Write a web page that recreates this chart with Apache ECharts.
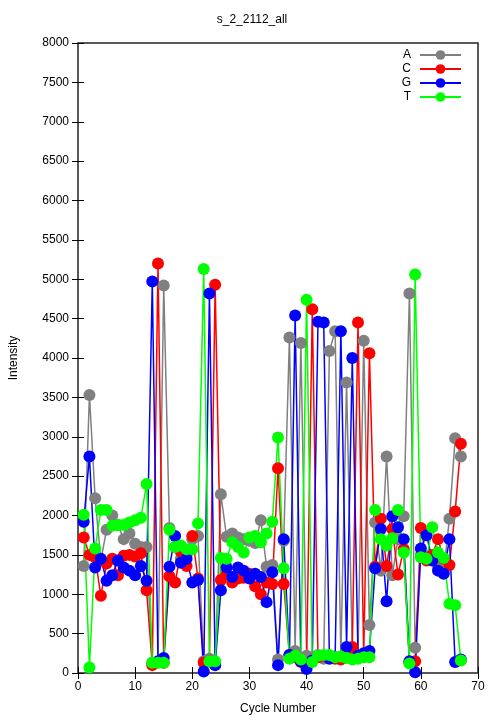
<!DOCTYPE html>
<html>
<head>
<meta charset="utf-8">
<script src="https://cdn.jsdelivr.net/npm/echarts@6/dist/echarts.min.js"></script>
<style>
  html, body { margin: 0; padding: 0; background: #fff; }
  #chart { width: 504px; height: 720px; }
</style>
</head>
<body>
<div id="chart"></div>
<script>
// cycle numbers 1..67
const cycles = [
  1, 2, 3, 4, 5, 6, 7, 8, 9, 10, 11, 12, 13, 14, 15, 16, 17, 18, 19, 20,
  21, 22, 23, 24, 25, 26, 27, 28, 29, 30, 31, 32, 33, 34, 35, 36, 37, 38, 39, 40,
  41, 42, 43, 44, 45, 46, 47, 48, 49, 50, 51, 52, 53, 54, 55, 56, 57, 58, 59, 60,
  61, 62, 63, 64, 65, 66, 67
]

const seriesA = [
  1360, 3530, 2220, 1430, 1820, 2000, 1880, 1700, 1770, 1640, 1600, 1600, 130, 140, 4920, 1840, 1600, 1450, 1500, 1700,
  1740, 150, 180, 100, 2270, 1730, 1770, 1720, 1700, 1680, 1650, 1940, 1350, 1370, 170, 1680, 4260, 280, 4190, 220,
  200, 230, 180, 4090, 4340, 200, 3690, 270, 210, 4220, 610, 1910, 1300, 2750, 1240, 1700, 1990, 4820, 320, 1500,
  1480, 1450, 1350, 1280, 1960, 2980, 2750
]
const seriesC = [
  1720, 1500, 1470, 980, 1390, 1450, 1240, 1490, 1500, 1480, 1520, 1050, 100, 5200, 130, 1230, 1150, 1540, 1360, 1740,
  1200, 130, 150, 4930, 1180, 1250, 1150, 1200, 1210, 1260, 1100, 1000, 1150, 1130, 2600, 1130, 230, 200, 140, 100,
  4620, 200, 220, 200, 180, 170, 200, 330, 4450, 230, 4060, 1350, 1960, 1360, 1830, 1250, 1575, 130, 150, 1840,
  1430, 1500, 1700, 1450, 1370, 2050, 2910
]
const seriesG = [
  1920, 2750, 1340, 1450, 1170, 1240, 1430, 1340, 1300, 1240, 1360, 1170, 4970, 150, 190, 1350, 1740, 1400, 1450, 1150,
  1180, 20, 4820, 100, 1050, 1340, 1220, 1340, 1300, 1200, 1260, 1220, 900, 1280, 100, 1700, 230, 4540, 150, 50,
  160, 4460, 4450, 180, 200, 4340, 330, 4000, 220, 250, 280, 1330, 1830, 910, 1990, 1850, 1700, 150, 10, 1580,
  1750, 1430, 1300, 1260, 1700, 140, 170
]
const seriesT = [
  2010, 70, 1580, 2070, 2070, 1870, 1880, 1880, 1910, 1940, 1970, 2400, 130, 130, 130, 1820, 1600, 1620, 1570, 1570,
  1900, 5130, 150, 150, 1460, 1450, 1660, 1600, 1530, 1720, 1740, 1660, 1770, 1920, 2990, 1330, 180, 220, 170, 4740,
  140, 220, 230, 230, 200, 210, 190, 170, 180, 200, 200, 2070, 1700, 1620, 1710, 2070, 1530, 120, 5060, 1470,
  1450, 1850, 1530, 1460, 880, 860, 160
]

const names = ['A', 'C', 'G', 'T']
const colors = ['#808080', '#ff0000', '#0000ff', '#00ff00']
const values = [seriesA, seriesC, seriesG, seriesT]

const font = 'Liberation Sans, Arial, sans-serif'

const chart = echarts.init(document.getElementById('chart'))

const pairs = arr => cycles.map((c, i) => [c, arr[i]])

const tickStyle = {
  axisLine: { show: false },
  axisTick: { show: true, inside: true, length: 6, lineStyle: { color: '#000', width: 1 } },
  splitLine: { show: false }
}

chart.setOption({
  animation: false,
  textStyle: { fontFamily: font },
  title: {
    text: 's_2_2112_all',
    left: 'center',
    top: 9,
    textStyle: { fontSize: 12, fontWeight: 'normal', color: '#000', fontFamily: font }
  },
  legend: {
    orient: 'vertical',
    right: 37,
    top: 44,
    align: 'right',
    itemWidth: 41,
    itemHeight: 12,
    itemGap: 2,
    data: names,
    textStyle: { fontSize: 12, color: '#000', fontFamily: font, padding: [0, 4, 0, 0] }
  },
  grid: {
    left: 78,
    right: 26,
    top: 43,
    bottom: 46,
    show: true,
    borderColor: '#222',
    borderWidth: 1.5,
    backgroundColor: 'transparent'
  },
  xAxis: [
    {
      type: 'value',
      min: 0,
      max: 70,
      interval: 10,
      name: 'Cycle Number',
      nameLocation: 'middle',
      nameGap: 30,
      nameTextStyle: { fontSize: 12, color: '#000', fontFamily: font },
      axisLabel: { fontSize: 12, color: '#000', margin: 8, fontFamily: font },
      ...tickStyle
    },
    {
      type: 'value',
      position: 'top',
      min: 0,
      max: 70,
      interval: 10,
      axisLabel: { show: false },
      ...tickStyle
    }
  ],
  yAxis: [
    {
      type: 'value',
      min: 0,
      max: 8000,
      interval: 500,
      name: 'Intensity',
      nameLocation: 'middle',
      nameGap: 58,
      nameTextStyle: { fontSize: 12, color: '#000', fontFamily: font },
      axisLabel: { fontSize: 12, color: '#000', margin: 9, fontFamily: font, formatter: v => String(v) },
      ...tickStyle
    },
    {
      type: 'value',
      position: 'right',
      min: 0,
      max: 8000,
      interval: 500,
      axisLabel: { show: false },
      ...tickStyle
    }
  ],
  series: names.map((n, i) => ({
    name: n,
    type: 'line',
    data: pairs(values[i]),
    symbol: 'circle',
    symbolSize: 12,
    showAllSymbol: true,
    clip: false,
    lineStyle: { color: colors[i], width: 1.5 },
    itemStyle: { color: colors[i] },
    emphasis: { disabled: true }
  }))
})
</script>
</body>
</html>
